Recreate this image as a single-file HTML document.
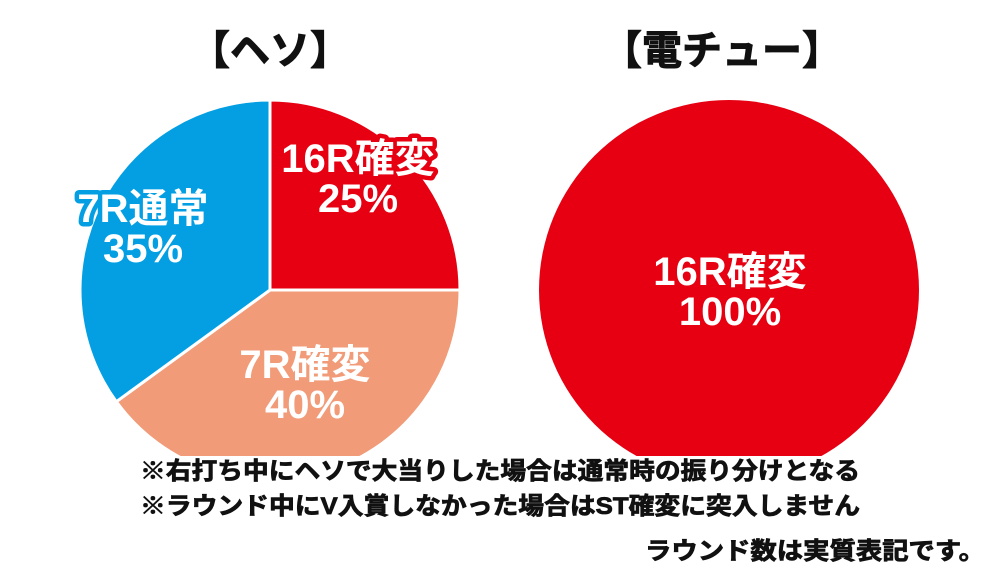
<!DOCTYPE html>
<html><head><meta charset="utf-8"><style>
body{margin:0;background:#fff;width:1000px;height:577px;overflow:hidden}
svg{display:block}
text{font-family:"Liberation Sans","Noto Sans CJK JP",sans-serif;font-weight:bold}
</style></head><body>
<svg id="chart" width="1000" height="577" viewBox="0 0 1000 577">
<text x="270" y="64" font-size="40" text-anchor="middle" fill="#111" stroke="#111" stroke-width="1">【ヘソ】</text>
<text x="722" y="64" font-size="40" text-anchor="middle" fill="#111" stroke="#111" stroke-width="1">【電チュー】</text>
<g id="pies"></g>
<rect x="0" y="456" width="1000" height="121" fill="#fff"/>
<text x="140" y="479" font-size="24" fill="#111" stroke="#111" stroke-width="0.8" textLength="720" lengthAdjust="spacingAndGlyphs">※右打ち中にヘソで大当りした場合は通常時の振り分けとなる</text>
<text x="140" y="514" font-size="24" fill="#111" stroke="#111" stroke-width="0.8" textLength="720" lengthAdjust="spacingAndGlyphs">※ラウンド中にV入賞しなかった場合はST確変に突入しません</text>
<text x="645" y="559" font-size="24" fill="#111" stroke="#111" stroke-width="0.8" textLength="340" lengthAdjust="spacingAndGlyphs">ラウンド数は実質表記です。</text>
</svg>
<script>
const hesoLabels=["16R確変","7R確変","7R通常"];
const hesoValues=[25,40,35];
const denLabels=["16R確変"];
const denValues=[100];
const colors={"16R確変":"#e60012","7R確変":"#f19b78","7R通常":"#049fe3"};
const NS="http://www.w3.org/2000/svg";
const g=document.getElementById('pies');
function pie(cx,cy,r,labels,values,labelPos,name){
  const total=values.reduce((a,b)=>a+b,0);
  let a0=0;
  values.forEach((v,i)=>{
    const a1=a0+v/total*2*Math.PI;
    let el;
    if(v>=total){el=document.createElementNS(NS,'circle');el.setAttribute('cx',cx);el.setAttribute('cy',cy);el.setAttribute('r',r);}
    else{
      const x0=cx+r*Math.sin(a0),y0=cy-r*Math.cos(a0),x1=cx+r*Math.sin(a1),y1=cy-r*Math.cos(a1);
      el=document.createElementNS(NS,'path');
      el.setAttribute('d',`M${cx},${cy}L${x0},${y0}A${r},${r} 0 ${a1-a0>Math.PI?1:0} 1 ${x1},${y1}Z`);
      el.setAttribute('stroke','#fff');el.setAttribute('stroke-width','3');
    }
    el.setAttribute('fill',colors[labels[i]]);
    
    
    g.appendChild(el);
    a0=a1;
  });
  values.forEach((v,i)=>{
    const p=labelPos[i];
    [[labels[i],0],[Math.round(v/total*100)+'%',40]].forEach(([t,dy],k)=>{
      const tx=document.createElementNS(NS,'text');
      tx.setAttribute('x',p[0]);tx.setAttribute('y',p[1]+dy);
      tx.setAttribute('text-anchor','middle');tx.setAttribute('font-size','40');
      tx.setAttribute('fill','#fff');tx.setAttribute('stroke',colors[labels[i]]);
      tx.setAttribute('stroke-width','9');tx.setAttribute('paint-order','stroke');tx.setAttribute('stroke-linejoin','round');
      tx.textContent=t;
      
      
      g.appendChild(tx);
    });
  });
}
pie(270,290,190,hesoLabels,hesoValues,[[358,172],[305,378],[143,222]],'heso');
pie(729,290,190,denLabels,denValues,[[730,285]],'den');
</script>
</body></html>
